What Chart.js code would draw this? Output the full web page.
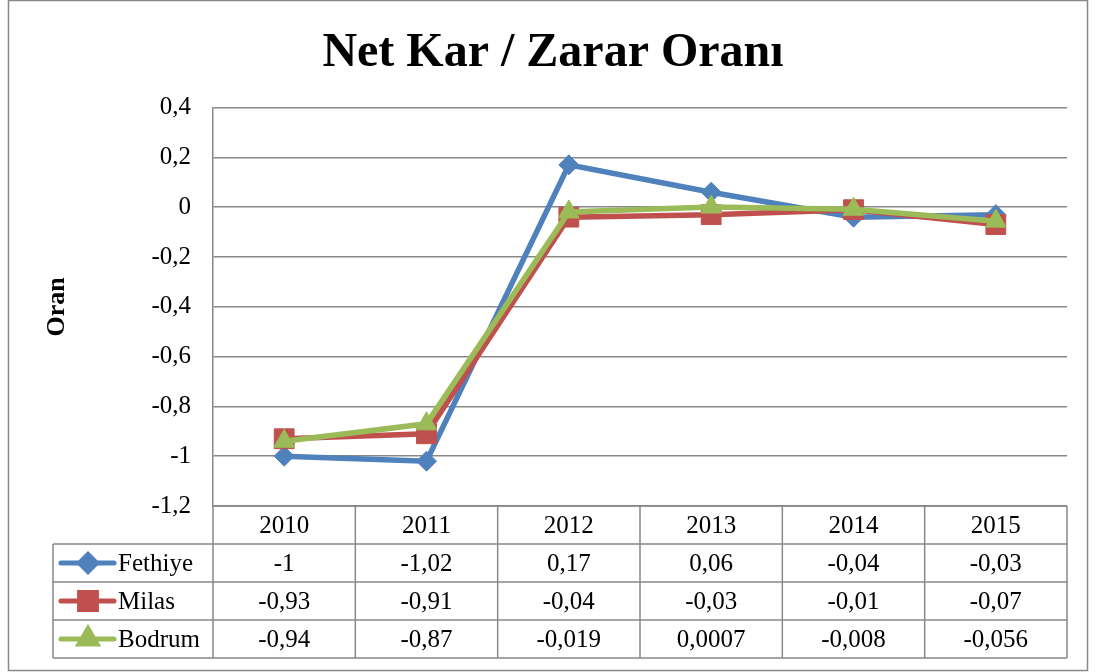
<!DOCTYPE html>
<html>
<head>
<meta charset="utf-8">
<script src="https://cdn.jsdelivr.net/npm/chart.js@4.4.1/dist/chart.umd.min.js"></script>
<style>
  html, body { margin: 0; padding: 0; background: #fff; }
  #wrap { width: 1097px; height: 672px; }
</style>
</head>
<body>
<div id="wrap"><canvas id="chart" width="1097" height="672"></canvas></div>
<script>
const years = ['2010', '2011', '2012', '2013', '2014', '2015'];
const fethiye = [-1, -1.02, 0.17, 0.06, -0.04, -0.03];
const milas = [-0.93, -0.91, -0.04, -0.03, -0.01, -0.07];
const bodrum = [-0.94, -0.87, -0.019, 0.0007, -0.008, -0.056];
const seriesNames = ['Fethiye', 'Milas', 'Bodrum'];
const yMin = -1.2, yMax = 0.4, yStep = 0.2;

const colors = ['#4F81BD', '#C0504D', '#9BBB59'];
const markers = ['rectRot', 'rect', 'triangle'];
const markerSize = [10, 14, 12];
const gridColor = '#888888';
const serif = "'Liberation Serif', 'Times New Roman', serif";

// virgüllü ondalık (tr)
const fmt = v => String(v).replace('.', ',');

const frame = {
    id: 'frame',
    beforeDraw(chart) {
        const ctx = chart.ctx;
        ctx.save();
        ctx.fillStyle = '#fff';
        ctx.fillRect(0, 0, chart.width, chart.height);
        ctx.strokeStyle = gridColor;
        ctx.lineWidth = 1.5;
        ctx.strokeRect(8.5, 0.5, 1079, 670);
        ctx.restore();
    }
};

// veri tablosu: sütunlar x ekseninden
const dataTable = {
    id: 'dataTable',
    afterDraw(chart) {
        const ctx = chart.ctx, x = chart.scales.x, area = chart.chartArea;
        const rows = [fethiye, milas, bodrum];
        const colW = x.width / years.length;
        const rowH = 38, top = area.bottom, legendLeft = 53;
        const bottom = top + rowH * (rows.length + 1);

        ctx.save();
        ctx.strokeStyle = gridColor;
        ctx.lineWidth = 1.5;
        ctx.beginPath();
        for (let r = 0; r <= rows.length + 1; r++) {
            const y = top + r * rowH;
            ctx.moveTo(r === 0 ? area.left : legendLeft, y);
            ctx.lineTo(area.right, y);
        }
        for (let c = 0; c <= years.length; c++) {
            const xx = area.left + c * colW;
            ctx.moveTo(xx, top);
            ctx.lineTo(xx, bottom);
        }
        ctx.moveTo(legendLeft, top + rowH);
        ctx.lineTo(legendLeft, bottom);
        ctx.stroke();

        ctx.fillStyle = '#000';
        ctx.font = '25px ' + serif;
        ctx.textAlign = 'center';
        ctx.textBaseline = 'middle';
        years.forEach((yr, i) => ctx.fillText(yr, x.getPixelForValue(i), top + rowH / 2 + 1));

        rows.forEach((data, r) => {
            const cy = top + (r + 1) * rowH + rowH / 2 + 1;
            ctx.strokeStyle = colors[r];
            ctx.lineWidth = 5;
            ctx.lineCap = 'round';
            ctx.beginPath();
            ctx.moveTo(61, cy - 1);
            ctx.lineTo(114, cy - 1);
            ctx.stroke();
            ctx.fillStyle = colors[r];
            Chart.helpers.drawPoint(ctx, {
                pointStyle: markers[r], radius: markerSize[r] * 0.85, borderWidth: 1, rotation: 0
            }, 88, cy - 1);
            ctx.fillStyle = '#000';
            ctx.textAlign = 'left';
            ctx.fillText(seriesNames[r], 118, cy);
            ctx.textAlign = 'center';
            data.forEach((v, i) => ctx.fillText(fmt(v), x.getPixelForValue(i), cy));
        });
        ctx.restore();
    }
};

const makeSet = (label, data, i) => ({
    label: label,
    data: data,
    borderColor: colors[i],
    backgroundColor: colors[i],
    borderWidth: 5.5,
    pointStyle: markers[i],
    pointRadius: markerSize[i],
    pointBorderWidth: 1,
    pointBorderColor: colors[i],
    tension: 0,
    order: 3 - i
});

new Chart(document.getElementById('chart'), {
    type: 'line',
    data: {
        labels: years,
        datasets: [
            makeSet(seriesNames[0], fethiye, 0),
            makeSet(seriesNames[1], milas, 1),
            makeSet(seriesNames[2], bodrum, 2)
        ]
    },
    options: {
        responsive: false,
        animation: false,
        layout: { padding: { left: 39, right: 30, top: 2, bottom: 166 } },
        plugins: {
            legend: { display: false },
            tooltip: { enabled: false },
            title: {
                display: true,
                text: 'Net Kar / Zarar Oranı',
                color: '#000',
                font: { family: serif, size: 48, weight: 'bold' },
                padding: { top: 23, bottom: 25 }
            }
        },
        scales: {
            x: {
                display: false,
                offset: true
            },
            y: {
                min: yMin,
                max: yMax,
                afterFit(scale) { scale.width = 174; },
                ticks: {
                    stepSize: yStep,
                    padding: 22,
                    color: '#000',
                    font: { family: serif, size: 25 },
                    callback: v => fmt(Math.round(v * 10) / 10)
                },
                grid: { color: gridColor, lineWidth: 1.5, drawTicks: false },
                border: { color: gridColor, width: 1.5 },
                title: {
                    display: true,
                    text: 'Oran',
                    color: '#000',
                    font: { family: serif, size: 26, weight: 'bold' },
                    padding: { top: 3, bottom: 0 }
                }
            }
        }
    },
    plugins: [frame, dataTable]
});
</script>
</body>
</html>
